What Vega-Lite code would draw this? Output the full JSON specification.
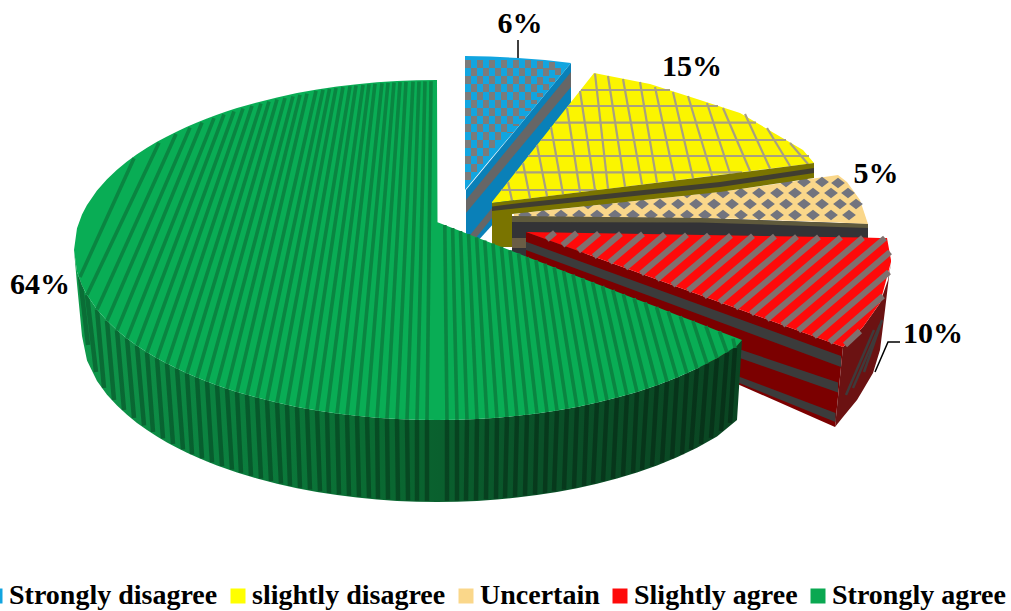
{
"$schema":"https://vega.github.io/schema/vega-lite/v6.json",
"width":1011,"height":611,"padding":0,"autosize":{"type":"none"},"background":"white",
"config":{"view":{"stroke":null}},
"datasets":{
"shares":[
{"category":"Strongly disagree","share":0.06,"lx":520,"ly":33},
{"category":"slightly disagree","share":0.15,"lx":692,"ly":76},
{"category":"Uncertain","share":0.05,"lx":876,"ly":183},
{"category":"Slightly agree","share":0.10,"lx":933,"ly":343},
{"category":"Strongly agree","share":0.64,"lx":40,"ly":294}
],
"faces":[
{"part":"blue_side","x":466,"y":190,"y2":254},{"part":"blue_side","x":571,"y":63,"y2":138},
{"part":"blue_band1","x":466,"y":200,"y2":213},{"part":"blue_band1","x":571,"y":72,"y2":87},
{"part":"blue_band2","x":466,"y":240,"y2":250},{"part":"blue_band2","x":492,"y":208,"y2":218},
{"part":"blue_top","x":465,"y":56,"y2":190},{"part":"blue_top","x":490,"y":56.5,"y2":159.8},{"part":"blue_top","x":518,"y":58,"y2":127},{"part":"blue_top","x":545,"y":60,"y2":94.4},{"part":"blue_top","x":571,"y":63,"y2":63},
{"part":"yellow_top","x":492,"y":202,"y2":203},{"part":"yellow_top","x":594,"y":73,"y2":190.4},{"part":"yellow_top","x":650,"y":84,"y2":183.4},{"part":"yellow_top","x":700,"y":100,"y2":177.2},{"part":"yellow_top","x":740,"y":113,"y2":172.2},{"part":"yellow_top","x":803,"y":150,"y2":164.4},{"part":"yellow_top","x":814,"y":163,"y2":163},
{"part":"tan_side","x":512,"y":216,"y2":262},{"part":"tan_side","x":700,"y":218,"y2":240},{"part":"tan_side","x":868,"y":224,"y2":238.5},
{"part":"tan_band2","x":512,"y":238,"y2":248},{"part":"tan_band2","x":527,"y":238,"y2":248},
{"part":"tan_top","x":514,"y":214,"y2":216.5},{"part":"tan_top","x":720,"y":192,"y2":218.3},{"part":"tan_top","x":838,"y":175,"y2":222.5},{"part":"tan_top","x":847,"y":182,"y2":223},{"part":"tan_top","x":860,"y":200,"y2":223.7},{"part":"tan_top","x":868,"y":224,"y2":224},
{"part":"red_side","x":526,"y":232,"y2":291},{"part":"red_side","x":835,"y":344.1,"y2":427},{"part":"red_side","x":843,"y":347,"y2":347},
{"part":"red_band1","x":526,"y":241.7,"y2":250},{"part":"red_band1","x":841,"y":356,"y2":367},
{"part":"red_band2","x":700,"y":336,"y2":344},{"part":"red_band2","x":838,"y":382.5,"y2":392.5},
{"part":"red_band3","x":700,"y":362,"y2":367},{"part":"red_band3","x":835.5,"y":413,"y2":422},
{"part":"red_outer","x":835,"y":427,"y2":427},{"part":"red_outer","x":843,"y":347,"y2":417},{"part":"red_outer","x":857,"y":333,"y2":400},{"part":"red_outer","x":863,"y":327,"y2":390},{"part":"red_outer","x":873,"y":313,"y2":373},{"part":"red_outer","x":880,"y":303,"y2":350},{"part":"red_outer","x":885,"y":288.6,"y2":310},{"part":"red_outer","x":888,"y":280,"y2":285},{"part":"red_outer","x":891,"y":262,"y2":262},
{"part":"red_top","x":526,"y":232,"y2":232},{"part":"red_top","x":843,"y":237.3,"y2":347},{"part":"red_top","x":863,"y":237.6,"y2":327},{"part":"red_top","x":880,"y":237.9,"y2":303},{"part":"red_top","x":887,"y":238,"y2":277},{"part":"red_top","x":891,"y":260,"y2":262}
],
"lips":[
{"part":"yellow_side","x":492,"y":203,"y2":247},{"part":"yellow_side","x":512,"y":200.5,"y2":247},{"part":"yellow_side","x":512.01,"y":200.5,"y2":214},{"part":"yellow_side","x":720,"y":175,"y2":192},{"part":"yellow_side","x":814,"y":163,"y2":178},
{"part":"yellow_band","x":492,"y":206.5,"y2":211},{"part":"yellow_band","x":520,"y":203,"y2":208},{"part":"yellow_band","x":720,"y":182,"y2":187},{"part":"yellow_band","x":814,"y":168,"y2":173},
{"part":"tan_band1","x":512,"y":216,"y2":222},{"part":"tan_band1","x":700,"y":218,"y2":222.5},{"part":"tan_band1","x":868,"y":224,"y2":228}
],
"yellow_hatch":[
{"x":581,"y":90,"x2":670,"y2":90},{"x":568,"y":106,"x2":718,"y2":106},{"x":555,"y":122.7,"x2":756,"y2":122.7},{"x":541,"y":140,"x2":786,"y2":140},{"x":528,"y":156,"x2":809,"y2":156},{"x":515.5,"y":172.3,"x2":742,"y2":172.3},{"x":501.5,"y":190,"x2":597,"y2":190},
{"x":508,"y":182,"x2":512,"y2":200.5},{"x":523,"y":163,"x2":530,"y2":198},{"x":537,"y":145,"x2":547,"y2":196},{"x":551,"y":127,"x2":563,"y2":194},{"x":567,"y":108,"x2":580,"y2":192},{"x":580,"y":91,"x2":595,"y2":190},{"x":595,"y":73.5,"x2":608,"y2":188.6},{"x":608,"y":76,"x2":625,"y2":186.5},{"x":623,"y":79,"x2":642,"y2":184.4},{"x":640,"y":82,"x2":657,"y2":182.5},{"x":655,"y":87,"x2":675,"y2":180.3},{"x":673,"y":92,"x2":693,"y2":178},{"x":688,"y":96,"x2":712,"y2":175.7},{"x":707,"y":103,"x2":730,"y2":173.5},{"x":723,"y":108,"x2":750,"y2":171},{"x":745,"y":114,"x2":770,"y2":168.5},{"x":767,"y":128,"x2":790,"y2":166},{"x":790,"y":143,"x2":808,"y2":164}
],
"blue_checks":[
{"x":468,"y":60,"y2":184},{"x":474,"y":68,"y2":176},{"x":480,"y":60,"y2":169},{"x":486,"y":68,"y2":162},{"x":492,"y":60,"y2":155},{"x":498,"y":68,"y2":148},{"x":504,"y":60,"y2":140},{"x":510,"y":68,"y2":133},{"x":516,"y":60,"y2":126},{"x":522,"y":68,"y2":119},{"x":528,"y":60,"y2":111},{"x":534,"y":68,"y2":104},{"x":540,"y":61,"y2":97},{"x":546,"y":68,"y2":90},{"x":552,"y":62,"y2":82},{"x":558,"y":68,"y2":75}
],
"tan_diamonds":[
{"x":525,"y":215},{"x":543,"y":215},{"x":561,"y":215},{"x":579,"y":215},{"x":597,"y":215},{"x":615,"y":215},{"x":633,"y":215},{"x":651,"y":215},{"x":669,"y":215},{"x":687,"y":215},{"x":705,"y":215},{"x":723,"y":215},{"x":741,"y":215},{"x":759,"y":215},{"x":777,"y":215},{"x":795,"y":215},{"x":813,"y":215},{"x":831,"y":215},{"x":849,"y":215},
{"x":588,"y":204},{"x":606,"y":204},{"x":624,"y":204},{"x":642,"y":204},{"x":660,"y":204},{"x":678,"y":204},{"x":696,"y":204},{"x":714,"y":204},{"x":732,"y":204},{"x":750,"y":204},{"x":768,"y":204},{"x":786,"y":204},{"x":804,"y":204},{"x":822,"y":204},{"x":840,"y":204},{"x":856,"y":204},
{"x":687,"y":193},{"x":705,"y":193},{"x":723,"y":193},{"x":741,"y":193},{"x":759,"y":193},{"x":777,"y":193},{"x":795,"y":193},{"x":813,"y":193},{"x":831,"y":193},{"x":848,"y":193},
{"x":786,"y":182},{"x":804,"y":182},{"x":822,"y":182},{"x":838,"y":183}
],
"red_stripes":[
{"x":885,"y":238,"x2":782.4,"y2":325.1},{"x":863,"y":237.6,"x2":766.7,"y2":319.4},{"x":841,"y":237.2,"x2":751,"y2":313.7},{"x":819,"y":236.9,"x2":735.3,"y2":308},{"x":797,"y":236.5,"x2":719.6,"y2":302.3},{"x":775,"y":236.1,"x2":703.9,"y2":296.6},{"x":753,"y":235.8,"x2":688.1,"y2":290.8},{"x":731,"y":235.4,"x2":672.4,"y2":285.1},{"x":709,"y":235,"x2":656.7,"y2":279.4},{"x":687,"y":234.7,"x2":641,"y2":273.7},{"x":665,"y":234.3,"x2":625.3,"y2":268},{"x":643,"y":233.9,"x2":609.6,"y2":262.3},{"x":621,"y":233.6,"x2":593.8,"y2":256.6},{"x":599,"y":233.2,"x2":578.1,"y2":250.9},{"x":577,"y":232.8,"x2":562.4,"y2":245.2},{"x":555,"y":232.5,"x2":546.7,"y2":239.5},{"x":890,"y":252,"x2":798.2,"y2":330.8},{"x":889,"y":272,"x2":813.9,"y2":336.5},{"x":883,"y":296,"x2":829.6,"y2":342.2},{"x":860,"y":331,"x2":845,"y2":345}
],
"red_outer_stripes":[
{"x":846,"y":395,"x2":874,"y2":330},{"x":853,"y":388,"x2":880,"y2":325},{"x":864,"y":372,"x2":882,"y2":320}
],
"green_outline":[
{"x":74,"top":250,"low":250,"bot":250},{"x":77,"top":228.2,"low":271.8,"bot":284},{"x":82,"top":214.5,"low":285.5,"bot":336},{"x":87,"top":204.9,"low":295.1,"bot":360.4},{"x":97,"top":190.5,"low":309.5,"bot":380.9},{"x":107,"top":179.2,"low":320.8,"bot":394.7},{"x":117,"top":169.7,"low":330.3,"bot":405.6},{"x":127,"top":161.6,"low":338.4,"bot":414.8},{"x":137,"top":154.3,"low":345.7,"bot":422.9},{"x":147,"top":147.7,"low":352.3,"bot":430.1},{"x":157,"top":141.8,"low":358.2,"bot":436.5},{"x":167,"top":136.4,"low":363.6,"bot":442.4},{"x":177,"top":131.4,"low":368.6,"bot":447.8},{"x":187,"top":126.7,"low":373.3,"bot":452.7},{"x":197,"top":122.5,"low":377.5,"bot":457.3},{"x":207,"top":118.5,"low":381.5,"bot":461.5},{"x":217,"top":114.8,"low":385.2,"bot":465.4},{"x":227,"top":111.3,"low":388.7,"bot":469.1},{"x":237,"top":108.1,"low":391.9,"bot":472.5},{"x":257,"top":102.4,"low":397.6,"bot":478.5},{"x":277,"top":97.4,"low":402.6,"bot":483.8},{"x":297,"top":93.1,"low":406.9,"bot":488.2},{"x":317,"top":89.6,"low":410.4,"bot":492},{"x":337,"top":86.6,"low":413.4,"bot":495.1},{"x":357,"top":84.2,"low":415.8,"bot":497.6},{"x":377,"top":82.3,"low":417.7,"bot":499.6},{"x":397,"top":81,"low":419,"bot":500.9},{"x":417,"top":80.3,"low":419.7,"bot":501.7},{"x":437,"top":80,"low":420,"bot":502},{"x":437.5,"top":222.2,"low":420,"bot":502},{"x":457,"top":229.7,"low":419.7,"bot":501.7},{"x":477,"top":237.5,"low":419,"bot":500.9},{"x":497,"top":245.2,"low":417.7,"bot":499.6},{"x":517,"top":253,"low":415.8,"bot":497.6},{"x":537,"top":260.7,"low":413.4,"bot":495.1},{"x":557,"top":268.4,"low":410.4,"bot":492},{"x":577,"top":276.2,"low":406.9,"bot":488.2},{"x":597,"top":283.9,"low":402.6,"bot":483.8},{"x":617,"top":291.7,"low":397.6,"bot":478.5},{"x":637,"top":299.4,"low":391.9,"bot":472.5},{"x":657,"top":307.1,"low":385.2,"bot":465.4},{"x":677,"top":314.9,"low":377.5,"bot":457.3},{"x":697,"top":322.6,"low":368.6,"bot":447.8},{"x":717,"top":330.4,"low":358.2,"bot":436.5},{"x":737,"top":338.1,"low":345.7,"bot":420},{"x":742,"top":340,"low":340,"bot":340}
],
"green_stripes":[
{"xb":80,"yb":277,"xt":134,"yt":158.2,"xs":88,"ys":345},{"xb":87,"yb":295.1,"xt":159,"yt":142.8,"xs":96,"ys":372},{"xb":97,"yb":309.5,"xt":176,"yt":134,"xs":104,"ys":388},{"xb":107,"yb":320.8,"xt":190,"yt":127.6,"xs":114,"ys":400},{"xb":117,"yb":330.3,"xt":202,"yt":122.5,"xs":124,"ys":410},{"xb":127,"yb":338.4,"xt":214,"yt":118.2,"xs":134,"ys":418},{"xb":137,"yb":345.7,"xt":224,"yt":114.4,"xs":144,"ys":425.5},{"xb":147,"yb":352.3,"xt":234,"yt":111.4,"xs":153,"ys":432},{"xb":157,"yb":358.2,"xt":243,"yt":108.5,"xs":163,"ys":438.5},{"xb":167,"yb":363.6,"xt":252,"yt":105.9,"xs":173,"ys":444},{"xb":177,"yb":368.6,"xt":261,"yt":103.5,"xs":183,"ys":449.5},{"xb":187,"yb":373.3,"xt":269,"yt":101.5,"xs":192,"ys":454.3},{"xb":197,"yb":377.5,"xt":277,"yt":99.5,"xs":202,"ys":458.5},{"xb":207,"yb":381.5,"xt":285,"yt":98,"xs":212,"ys":462.5},{"xb":217,"yb":385.2,"xt":293,"yt":96.4,"xs":222,"ys":466.2},{"xb":227,"yb":388.7,"xt":300,"yt":94.9,"xs":232,"ys":469.7},{"xb":237,"yb":391.9,"xt":307,"yt":93.7,"xs":241,"ys":472.9},{"xb":247,"yb":394.8,"xt":316,"yt":90.9,"xs":251,"ys":475.8},{"xb":257,"yb":397.6,"xt":323,"yt":89.9,"xs":261,"ys":478.6},{"xb":267,"yb":400.2,"xt":329.5,"yt":88.8,"xs":271,"ys":481.2},{"xb":277,"yb":402.6,"xt":336,"yt":88,"xs":281,"ys":483.6},{"xb":287,"yb":404.8,"xt":343,"yt":87.1,"xs":290,"ys":485.8},{"xb":297,"yb":406.9,"xt":350,"yt":86.2,"xs":300,"ys":487.9},{"xb":307,"yb":408.7,"xt":356,"yt":85.5,"xs":310,"ys":489.7},{"xb":317,"yb":410.4,"xt":363,"yt":84.9,"xs":320,"ys":491.4},{"xb":327,"yb":412,"xt":369,"yt":84.2,"xs":329,"ys":493},{"xb":337,"yb":413.4,"xt":375,"yt":83.7,"xs":339,"ys":494.4},{"xb":347,"yb":414.7,"xt":382,"yt":83.2,"xs":349,"ys":495.7},{"xb":357,"yb":415.8,"xt":388,"yt":82.9,"xs":359,"ys":496.8},{"xb":367,"yb":416.8,"xt":394,"yt":82.5,"xs":369,"ys":497.8},{"xb":377,"yb":417.7,"xt":400,"yt":82.2,"xs":378,"ys":498.7},{"xb":387,"yb":418.4,"xt":406,"yt":81.8,"xs":388,"ys":499.4},{"xb":397,"yb":419,"xt":413,"yt":81.6,"xs":398,"ys":500},{"xb":407,"yb":419.4,"xt":419,"yt":81.5,"xs":408,"ys":500.4},{"xb":417,"yb":419.7,"xt":425,"yt":81.4,"xs":417,"ys":500.7},{"xb":427,"yb":419.9,"xt":431,"yt":81.2,"xs":427,"ys":500.9},
{"xb":447,"yb":419.9,"xt":444.8,"yt":225,"xs":447,"ys":500.9},{"xb":457,"yb":419.7,"xt":452.6,"yt":228,"xs":457,"ys":500.7},{"xb":467,"yb":419.4,"xt":460.5,"yt":231,"xs":466,"ys":500.4},{"xb":477,"yb":419,"xt":468.5,"yt":234.2,"xs":476,"ys":500},{"xb":487,"yb":418.4,"xt":476.6,"yt":237.3,"xs":486,"ys":499.4},{"xb":497,"yb":417.7,"xt":484.7,"yt":240.5,"xs":496,"ys":498.7},{"xb":507,"yb":416.8,"xt":493,"yt":243.7,"xs":505,"ys":497.8},{"xb":517,"yb":415.8,"xt":501.4,"yt":246.9,"xs":515,"ys":496.8},{"xb":527,"yb":414.7,"xt":509.9,"yt":250.2,"xs":525,"ys":495.7},{"xb":537,"yb":413.4,"xt":518.5,"yt":253.5,"xs":535,"ys":494.4},{"xb":547,"yb":412,"xt":527.2,"yt":256.9,"xs":545,"ys":493},{"xb":557,"yb":410.4,"xt":536,"yt":260.3,"xs":554,"ys":491.4},{"xb":567,"yb":408.7,"xt":545,"yt":263.8,"xs":564,"ys":489.7},{"xb":577,"yb":406.9,"xt":554.2,"yt":267.4,"xs":574,"ys":487.9},{"xb":587,"yb":404.8,"xt":563.5,"yt":271,"xs":584,"ys":485.8},{"xb":597,"yb":402.6,"xt":573,"yt":274.6,"xs":593,"ys":483.6},{"xb":607,"yb":400.2,"xt":582.6,"yt":278.3,"xs":603,"ys":481.2},{"xb":617,"yb":397.6,"xt":592.5,"yt":282.2,"xs":613,"ys":478.6},{"xb":627,"yb":394.8,"xt":602.5,"yt":286,"xs":623,"ys":475.8},{"xb":637,"yb":391.9,"xt":612.8,"yt":290,"xs":633,"ys":472.9},{"xb":647,"yb":388.7,"xt":623.3,"yt":294.1,"xs":642,"ys":469.7},{"xb":657,"yb":385.2,"xt":634.1,"yt":298.3,"xs":652,"ys":466.2},{"xb":667,"yb":381.5,"xt":645.2,"yt":302.6,"xs":662,"ys":462.5},{"xb":677,"yb":377.5,"xt":656.5,"yt":307,"xs":672,"ys":458.5},{"xb":687,"yb":373.3,"xt":668.2,"yt":311.5,"xs":682,"ys":454.3},{"xb":697,"yb":368.6,"xt":680.3,"yt":316.2,"xs":691,"ys":449.5},{"xb":707,"yb":363.6,"xt":692.9,"yt":321,"xs":701,"ys":444},{"xb":717,"yb":358.2,"xt":705.9,"yt":326.1,"xs":711,"ys":438},{"xb":727,"yb":352.3,"xt":719.4,"yt":331.3,"xs":721,"ys":431},{"xb":735,"yb":348,"xt":733,"yt":338.5,"xs":730,"ys":423}
],
"leaders":[
{"leader":"six","x":518,"y":40},{"leader":"six","x":518.01,"y":58},
{"leader":"ten","x":875,"y":372},{"leader":"ten","x":888,"y":342},{"leader":"ten","x":900,"y":342}
]
},
"layer":[
{"data":{"name":"faces"},"mark":{"type":"area","interpolate":"linear"},
 "encoding":{
  "x":{"field":"x","type":"quantitative","axis":null,"scale":{"domain":[0,1011],"nice":false,"zero":false}},
  "y":{"field":"y","type":"quantitative","axis":null,"stack":null,"scale":{"domain":[611,0],"nice":false,"zero":false}},
  "y2":{"field":"y2"},
  "color":{"field":"part","type":"nominal","legend":null,"scale":{
   "domain":["blue_side","blue_band1","blue_band2","blue_top","yellow_top","tan_side","tan_band2","tan_top","red_side","red_band1","red_band2","red_band3","red_outer","red_top"],
   "range":["#0a80b8","#666666","#666666","#12a5e0","#fbf500","#333336","#6a5d45","#fad78a","#7b0000","#3b3b3b","#3b3b3b","#3b3b3b","#6b1212","#fe0a0a"]}}
 }},
{"data":{"name":"blue_checks"},"mark":{"type":"rule","color":"#7b7b7b","strokeWidth":6,"strokeDash":[8,8]},
 "encoding":{
  "x":{"field":"x","type":"quantitative","axis":null,"scale":{"domain":[0,1011],"nice":false,"zero":false}},
  "y":{"field":"y","type":"quantitative","axis":null,"scale":{"domain":[611,0],"nice":false,"zero":false}},
  "y2":{"field":"y2"}}},
{"data":{"name":"yellow_hatch"},"mark":{"type":"rule","color":"#a8a080","strokeWidth":2.2},
 "encoding":{
  "x":{"field":"x","type":"quantitative","axis":null,"scale":{"domain":[0,1011],"nice":false,"zero":false}},
  "x2":{"field":"x2"},
  "y":{"field":"y","type":"quantitative","axis":null,"scale":{"domain":[611,0],"nice":false,"zero":false}},
  "y2":{"field":"y2"}}},
{"data":{"name":"tan_diamonds"},"mark":{"type":"point","filled":true,"opacity":1,"color":"#72747e","shape":"M-1,0L0,-0.77L1,0L0,0.77Z","size":190},
 "encoding":{
  "x":{"field":"x","type":"quantitative","axis":null,"scale":{"domain":[0,1011],"nice":false,"zero":false}},
  "y":{"field":"y","type":"quantitative","axis":null,"scale":{"domain":[611,0],"nice":false,"zero":false}}}},
{"data":{"name":"lips"},"mark":{"type":"area","interpolate":"linear"},
 "encoding":{
  "x":{"field":"x","type":"quantitative","axis":null,"scale":{"domain":[0,1011],"nice":false,"zero":false}},
  "y":{"field":"y","type":"quantitative","axis":null,"stack":null,"scale":{"domain":[611,0],"nice":false,"zero":false}},
  "y2":{"field":"y2"},
  "color":{"field":"part","type":"nominal","legend":null,"scale":{"domain":["yellow_side","yellow_band","tan_band1"],"range":["#7a7400","#403d30","#5f5a3c"]}}
 }},
{"data":{"name":"red_stripes"},"mark":{"type":"rule","color":"#80706e","strokeWidth":6},
 "encoding":{
  "x":{"field":"x","type":"quantitative","axis":null,"scale":{"domain":[0,1011],"nice":false,"zero":false}},
  "x2":{"field":"x2"},
  "y":{"field":"y","type":"quantitative","axis":null,"scale":{"domain":[611,0],"nice":false,"zero":false}},
  "y2":{"field":"y2"}}},
{"data":{"name":"red_outer_stripes"},"mark":{"type":"rule","color":"#3f3a3a","strokeWidth":2.5},
 "encoding":{
  "x":{"field":"x","type":"quantitative","axis":null,"scale":{"domain":[0,1011],"nice":false,"zero":false}},
  "x2":{"field":"x2"},
  "y":{"field":"y","type":"quantitative","axis":null,"scale":{"domain":[611,0],"nice":false,"zero":false}},
  "y2":{"field":"y2"}}},
{"data":{"name":"green_outline"},"mark":{"type":"area","interpolate":"linear","color":{"gradient":"linear","x1":0,"y1":0,"x2":1,"y2":0,"stops":[{"offset":0,"color":"#0f9a4c"},{"offset":0.2,"color":"#0b8240"},{"offset":0.45,"color":"#0a6a32"},{"offset":0.7,"color":"#0a5028"},{"offset":1,"color":"#0a4522"}]}},
 "encoding":{
  "x":{"field":"x","type":"quantitative","axis":null,"scale":{"domain":[0,1011],"nice":false,"zero":false}},
  "y":{"field":"low","type":"quantitative","axis":null,"stack":null,"scale":{"domain":[611,0],"nice":false,"zero":false}},
  "y2":{"field":"bot"}}},
{"data":{"name":"green_stripes"},"mark":{"type":"rule","color":"#000000","opacity":0.28,"strokeWidth":4.5},
 "encoding":{
  "x":{"field":"xb","type":"quantitative","axis":null,"scale":{"domain":[0,1011],"nice":false,"zero":false}},
  "x2":{"field":"xs"},
  "y":{"field":"yb","type":"quantitative","axis":null,"scale":{"domain":[611,0],"nice":false,"zero":false}},
  "y2":{"field":"ys"}}},
{"data":{"name":"green_outline"},"mark":{"type":"area","interpolate":"linear","color":"#09ad55"},
 "encoding":{
  "x":{"field":"x","type":"quantitative","axis":null,"scale":{"domain":[0,1011],"nice":false,"zero":false}},
  "y":{"field":"top","type":"quantitative","axis":null,"stack":null,"scale":{"domain":[611,0],"nice":false,"zero":false}},
  "y2":{"field":"low"}}},
{"data":{"name":"green_stripes"},"mark":{"type":"rule","color":"#0a8541","strokeWidth":3.6},
 "encoding":{
  "x":{"field":"xt","type":"quantitative","axis":null,"scale":{"domain":[0,1011],"nice":false,"zero":false}},
  "x2":{"field":"xb"},
  "y":{"field":"yt","type":"quantitative","axis":null,"scale":{"domain":[611,0],"nice":false,"zero":false}},
  "y2":{"field":"yb"}}},
{"data":{"name":"leaders"},"mark":{"type":"line","color":"#000000","strokeWidth":1.5,"interpolate":"linear"},
 "encoding":{
  "x":{"field":"x","type":"quantitative","axis":null,"scale":{"domain":[0,1011],"nice":false,"zero":false}},
  "y":{"field":"y","type":"quantitative","axis":null,"scale":{"domain":[611,0],"nice":false,"zero":false}},
  "detail":{"field":"leader"}}},
{"data":{"name":"shares"},"mark":{"type":"text","font":"Liberation Serif","fontWeight":"bold","fontSize":30,"color":"#000000","align":"center","baseline":"alphabetic"},
 "encoding":{
  "x":{"field":"lx","type":"quantitative","axis":null,"scale":{"domain":[0,1011],"nice":false,"zero":false}},
  "y":{"field":"ly","type":"quantitative","axis":null,"scale":{"domain":[611,0],"nice":false,"zero":false}},
  "text":{"field":"share","type":"quantitative","format":".0%"}}},
{"data":{"name":"shares"},"mark":{"type":"point","shape":"square","filled":true,"size":0},
 "encoding":{
  "x":{"field":"lx","type":"quantitative","axis":null,"scale":{"domain":[0,1011],"nice":false,"zero":false}},
  "y":{"field":"ly","type":"quantitative","axis":null,"scale":{"domain":[611,0],"nice":false,"zero":false}},
  "color":{"field":"category","type":"nominal","title":null,
   "scale":{"domain":["Strongly disagree","slightly disagree","Uncertain","Slightly agree","Strongly agree"],"range":["#12a5e0","#ffff00","#fad78a","#fe0a0a","#0aa851"]},
   "legend":{"orient":"none","legendX":-19,"legendY":582,"direction":"horizontal","columns":5,"gridAlign":"none","columnPadding":6,"symbolType":"square","symbolSize":225,"symbolOpacity":1,"symbolStrokeWidth":0,"labelFont":"Liberation Serif","labelFontWeight":"bold","labelFontSize":28,"labelColor":"#000000","labelOffset":0,"labelLimit":300,
    "encoding":{"symbols":{"update":{"fill":{"signal":"datum.value === 'Strongly agree' ? {gradient:'linear',x1:0,y1:0,x2:1,y2:0,stops:[{offset:0,color:'#09ad55'},{offset:0.4,color:'#09ad55'},{offset:0.4,color:'#0a7a3c'},{offset:0.7,color:'#0a7a3c'},{offset:0.7,color:'#09ad55'},{offset:1,color:'#09ad55'}]} : datum.value === 'slightly disagree' ? {gradient:'linear',x1:0,y1:0,x2:0,y2:1,stops:[{offset:0,color:'#ffff00'},{offset:0.72,color:'#ffff00'},{offset:0.72,color:'#b0a870'},{offset:0.86,color:'#b0a870'},{offset:0.86,color:'#ffff00'},{offset:1,color:'#ffff00'}]} : datum.value === 'Slightly agree' ? {gradient:'linear',x1:0,y1:1,x2:1,y2:0,stops:[{offset:0,color:'#fe0a0a'},{offset:0.5,color:'#fe0a0a'},{offset:0.5,color:'#7f7f7f'},{offset:0.72,color:'#7f7f7f'},{offset:0.72,color:'#fe0a0a'},{offset:1,color:'#fe0a0a'}]} : datum.value === 'Uncertain' ? {gradient:'linear',x1:0,y1:0,x2:0,y2:1,stops:[{offset:0,color:'#7f7f7f'},{offset:0.18,color:'#7f7f7f'},{offset:0.18,color:'#fad78a'},{offset:1,color:'#fad78a'}]} : '#12a5e0'"}}}}}}}}
],
"resolve":{"scale":{"color":"independent"}}
}
